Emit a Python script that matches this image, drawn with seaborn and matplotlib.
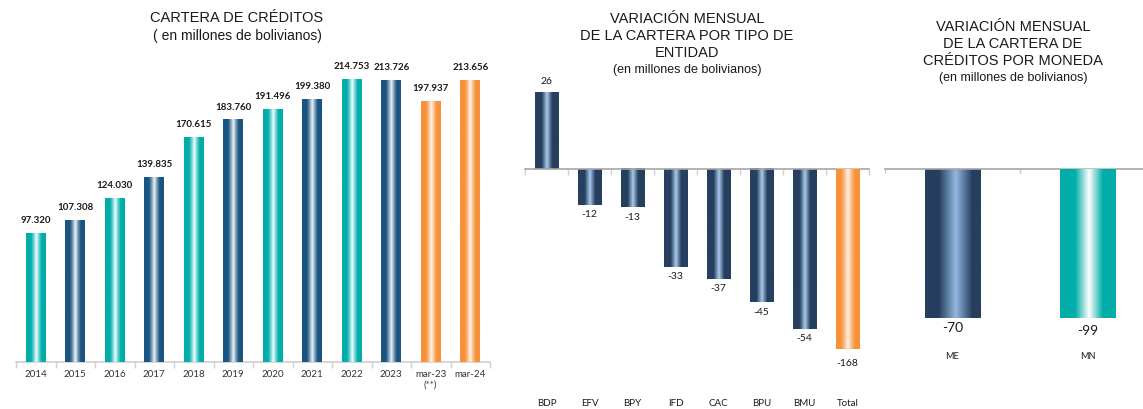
import numpy as np
import pandas as pd
import matplotlib
matplotlib.use("Agg")
import matplotlib.pyplot as plt
import matplotlib.colors as mcolors
import seaborn as sns

# ---------------- data ----------------
years = ["2014", "2015", "2016", "2017", "2018", "2019", "2020", "2021",
         "2022", "2023", "mar-23\n(**)", "mar-24"]
cartera = [97320, 107308, 124030, 139835, 170615, 183760, 191496, 199380,
           214753, 213726, 197937, 213656]
cartera_kind = ["t", "n", "t", "n", "t", "n", "t", "n", "t", "n", "o", "o"]

entidades = ["BDP", "EFV", "BPY", "IFD", "CAC", "BPU", "BMU", "Total"]
var_entidad = [26, -12, -13, -33, -37, -45, -54]
var_total = [-168]

monedas = ["ME", "MN"]
var_me = [-70]
var_mn = [-99]

# ---------------- style ----------------
sns.set_theme(style="white")
plt.rcParams["font.family"] = ["Liberation Sans", "DejaVu Sans"]

TEAL = "#00ADA9"
NAVY1 = "#1A5581"
ORANGE = "#F7913A"
NAVY2 = "#263F5F"
GRAY = "#A6A6A6"
LABEL_FONT = ["Lato", "DejaVu Sans"]

W, H = 1143, 409
fig = plt.figure(figsize=(W / 100, H / 100), dpi=100)


def px_axes(left, top, right, bottom):
    return fig.add_axes([left / W, 1 - bottom / H, (right - left) / W, (bottom - top) / H])


def shade(ax, patches, base, light, center=0.5, half=0.35, power=1.3):
    b = np.array(mcolors.to_rgb(base))
    l = np.array(mcolors.to_rgb(light))
    t = np.linspace(0, 1, 96)
    d = np.clip(1 - np.abs(t - center) / half, 0, 1) ** power
    img = (b[None, :] * (1 - d[:, None]) + l[None, :] * d[:, None])[None, :, :]
    xl, yl = ax.get_xlim(), ax.get_ylim()
    for p in patches:
        x, y, w, h = p.get_x(), p.get_y(), p.get_width(), p.get_height()
        if np.isnan(h) or h == 0:
            continue
        ax.imshow(img, extent=[x, x + w, y, y + h], aspect="auto",
                  interpolation="bilinear", zorder=3)
    ax.set_xlim(xl)
    ax.set_ylim(yl)


def clean(ax):
    for s in ["top", "right", "left"]:
        ax.spines[s].set_visible(False)
    ax.set_yticks([])
    ax.set_ylabel("")
    ax.set_xlabel("")
    ax.set_facecolor("none")


# ---------------- panel 1 ----------------
ax1 = px_axes(16, 60, 490, 362)
df1 = pd.DataFrame({"cat": years, "val": cartera, "kind": cartera_kind})
pal1 = {"t": TEAL, "n": NAVY1, "o": ORANGE}
sns.barplot(data=df1, x="cat", y="val", hue="kind", palette=pal1, dodge=False,
            width=0.506, legend=False, ax=ax1, saturation=1)
xlim1 = (-0.5, len(years) - 0.5)
ax1.set_xlim(xlim1)
ax1.set_ylim(0, 229.2 * 1000)
clean(ax1)
ax1.spines["bottom"].set_color("#D0D0D0")
ax1.spines["bottom"].set_linewidth(1.2)
ax1.set_xticks(range(len(years)))
ax1.set_xticklabels(years, fontsize=7, family=LABEL_FONT, color="#333333")
ax1.set_xticks(np.arange(len(years) + 1) - 0.5, minor=True)
ax1.tick_params(axis="x", which="major", length=0, pad=6)
ax1.tick_params(axis="x", which="minor", length=4, color="#D0D0D0", width=1, bottom=True)

lightmap = {TEAL: "#F2FFFF", NAVY1: "#F0F4F8", ORANGE: "#FFF6EE"}
for cont in ax1.containers:
    for p in cont.patches:
        if np.isnan(p.get_height()) or p.get_height() == 0:
            continue
        col = mcolors.to_hex(p.get_facecolor()[:3]).upper()
        base = {"#00ADA9": TEAL, "#1A5581": NAVY1, "#F7913A": ORANGE}.get(col, TEAL)
        shade(ax1, [p], base, lightmap[base], center=0.52, half=0.28, power=1.2)
    labels = [f"{int(round(v)):,}".replace(",", ".") if not np.isnan(v) else ""
              for v in cont.datavalues]
    ax1.bar_label(cont, labels=labels, padding=6, fontsize=7, fontweight="bold",
                  family=LABEL_FONT, color="#1A1A1A")

fig.text(237 / W, 1 - 18 / H, "CARTERA DE CRÉDITOS", ha="center", va="center",
         fontsize=10.5, color="#1A1A1A")
fig.text(237 / W, 1 - 36 / H, "( en millones de bolivianos)", ha="center", va="center",
         fontsize=10, color="#1A1A1A")

# ---------------- panel 2 ----------------
s2 = 2.96      # px per unit, primary
s2b = 180 / 168  # px per unit, total axis
top2, base2, bot2 = 75, 169, 393
ax2 = px_axes(525, top2, 869, bot2)
sns.barplot(x=entidades[:-1], y=var_entidad, order=entidades, color=NAVY2,
            width=0.535, ax=ax2, saturation=1)
xlim2 = (-0.5, len(entidades) - 0.5)
ax2.set_xlim(xlim2)
ax2.set_ylim(-(bot2 - base2) / s2, (base2 - top2) / s2)
ax2b = ax2.twinx()
sns.barplot(x=entidades[-1:], y=var_total, order=entidades, color=ORANGE,
            width=0.535, ax=ax2b, saturation=1)
ax2b.set_ylim(-(bot2 - base2) / s2b, (base2 - top2) / s2b)
ax2.set_xlim(xlim2)
for a in (ax2, ax2b):
    clean(a)
    a.spines["bottom"].set_visible(False)
ax2b.set_yticks([])
ax2.spines["bottom"].set_visible(True)
ax2.spines["bottom"].set_position(("data", 0))
ax2.spines["bottom"].set_color(GRAY)
ax2.spines["bottom"].set_linewidth(1.2)
ax2.spines["bottom"].set_zorder(4)
ax2.set_xticks(range(len(entidades)))
ax2.set_xticks(np.arange(len(entidades) + 1) - 0.5, minor=True)
ax2.tick_params(axis="x", which="major", length=0, labelbottom=False)
ax2.tick_params(axis="x", which="minor", length=4, color="#D0D0D0", width=1, bottom=True)
sec2 = ax2.secondary_xaxis("bottom")
sec2.set_xticks(range(len(entidades)))
sec2.set_xticklabels(entidades, fontsize=7, family=LABEL_FONT, color="#1A1A1A")
sec2.tick_params(length=0, pad=4)
sec2.spines["bottom"].set_visible(False)

shade(ax2, ax2.containers[0].patches, NAVY2, "#A9CBEB", center=0.5, half=0.22, power=1.0)
shade(ax2b, ax2b.containers[0].patches, ORANGE, "#FFF3E8", center=0.5, half=0.3, power=1.2)
ax2.bar_label(ax2.containers[0], labels=[str(v) for v in var_entidad], padding=4,
              fontsize=7.5, family=LABEL_FONT, color="#1A1A1A")
ax2b.bar_label(ax2b.containers[0], labels=[str(v) for v in var_total], padding=7,
               fontsize=7.5, family=LABEL_FONT, color="#1A1A1A")

for y, txt, fs in [(19, "VARIACIÓN MENSUAL", 10.5), (36, "DE LA CARTERA POR TIPO DE", 10.5),
                   (53, "ENTIDAD", 10.5), (70, "(en millones de bolivianos)", 9)]:
    fig.text(687 / W, 1 - y / H, txt, ha="center", va="center", fontsize=fs, color="#1A1A1A")

# ---------------- panel 3 ----------------
top3, base3, bot3 = 90, 169, 346
sme = 149 / 70
smn = 149 / 99
cw = 135
ax3 = px_axes(885, top3, 1143, bot3)
sns.barplot(x=monedas[:1], y=var_me, order=monedas, color=NAVY2, width=0.41,
            ax=ax3, saturation=1)
xlim3 = (-0.5, -0.5 + (1143 - 885) / cw)
ax3.set_xlim(xlim3)
ax3.set_ylim(-(bot3 - base3) / sme, (base3 - top3) / sme)
ax3b = ax3.twinx()
sns.barplot(x=monedas[1:], y=var_mn, order=monedas, color=TEAL, width=0.41,
            ax=ax3b, saturation=1)
ax3b.set_ylim(-(bot3 - base3) / smn, (base3 - top3) / smn)
for a in (ax3, ax3b):
    clean(a)
    a.spines["bottom"].set_visible(False)
ax3.spines["bottom"].set_visible(True)
ax3.spines["bottom"].set_position(("data", 0))
ax3.spines["bottom"].set_color(GRAY)
ax3.spines["bottom"].set_linewidth(1.2)
ax3.spines["bottom"].set_zorder(4)
ax3.set_xticks(range(len(monedas)))
ax3.set_xticks(np.arange(len(monedas)) - 0.5, minor=True)
ax3.tick_params(axis="x", which="major", length=0, labelbottom=False)
ax3.tick_params(axis="x", which="minor", length=3, color="#C8C8C8", width=1, bottom=True)
sec3 = ax3.secondary_xaxis("bottom")
sec3.set_xticks(range(len(monedas)))
sec3.set_xticklabels(monedas, fontsize=6.5, family=LABEL_FONT, color="#1A1A1A")
sec3.tick_params(length=0, pad=4)
sec3.spines["bottom"].set_visible(False)
ax3.set_xlim(xlim3)

shade(ax3, ax3.containers[0].patches, NAVY2, "#93B8E0", center=0.55, half=0.3, power=1.0)
shade(ax3b, ax3b.containers[0].patches, TEAL, "#FFFFFF", center=0.52, half=0.25, power=1.0)
ax3.bar_label(ax3.containers[0], labels=[str(v) for v in var_me], padding=3,
              fontsize=10, family=LABEL_FONT, color="#1A1A1A")
ax3b.bar_label(ax3b.containers[0], labels=[str(v) for v in var_mn], padding=5,
               fontsize=10, family=LABEL_FONT, color="#1A1A1A")

for y, txt, fs in [(27, "VARIACIÓN MENSUAL", 10.5), (44, "DE LA CARTERA DE", 10.5),
                   (61, "CRÉDITOS POR MONEDA", 10.5), (78, "(en millones de bolivianos)", 9)]:
    fig.text(1013 / W, 1 - y / H, txt, ha="center", va="center", fontsize=fs, color="#1A1A1A")

# final limits (set_ticks may have widened them)
ax1.set_xlim(xlim1)
ax2.set_xlim(xlim2)
ax3.set_xlim(xlim3)

fig.savefig("out.png", dpi=100, facecolor="white")
